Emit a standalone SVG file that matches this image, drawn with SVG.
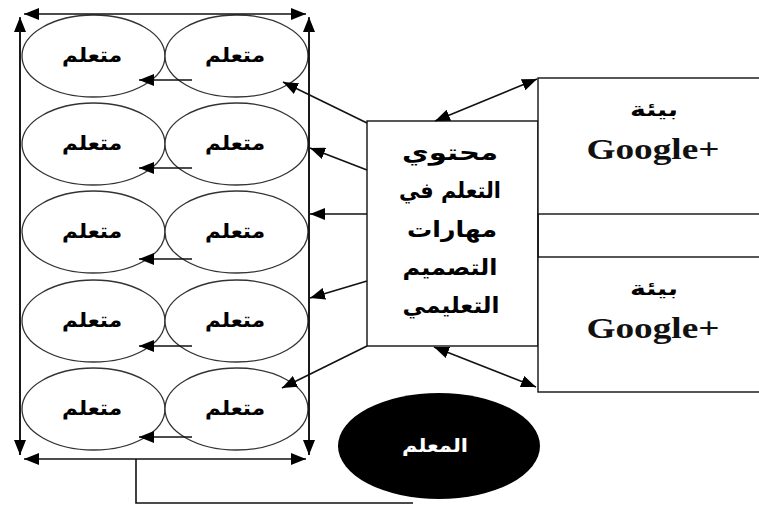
<svg xmlns="http://www.w3.org/2000/svg" width="759" height="506" viewBox="0 0 759 506">
<style>
.ln{stroke:#111;stroke-width:1.6;fill:none}
.el{stroke:#333;stroke-width:1.3;fill:#fff}
.bx{stroke:#111;stroke-width:1.4;fill:#fff}
.ar{font-family:"DejaVu Sans",sans-serif;font-weight:bold;fill:#000;text-anchor:middle}
.lt{font-size:20px}
.ct{font-size:22px}
.gg{font-family:"Liberation Serif",serif;font-weight:bold;font-size:30px;fill:#111;text-anchor:middle}
</style>
<defs>
<marker id="ah" markerUnits="userSpaceOnUse" markerWidth="15" markerHeight="12" refX="15" refY="6" orient="auto-start-reverse" viewBox="0 0 15 12">
<path d="M0,0 L15,6 L0,12 z" fill="#000"/>
</marker>
</defs>
<rect width="759" height="506" fill="#fff"/>
<g id="learners">
<g id="l1a"><ellipse class="el" cx="93.5" cy="56" rx="71.5" ry="41"/><text class="ar lt" x="92" y="62" textLength="60" lengthAdjust="spacingAndGlyphs">متعلم</text></g>
<g id="l1b"><ellipse class="el" cx="236.5" cy="56" rx="71.5" ry="41"/><text class="ar lt" x="235" y="62" textLength="60" lengthAdjust="spacingAndGlyphs">متعلم</text></g>
<g id="l2a"><ellipse class="el" cx="93.5" cy="144" rx="71.5" ry="41"/><text class="ar lt" x="92" y="150" textLength="60" lengthAdjust="spacingAndGlyphs">متعلم</text></g>
<g id="l2b"><ellipse class="el" cx="236.5" cy="144" rx="71.5" ry="41"/><text class="ar lt" x="235" y="150" textLength="60" lengthAdjust="spacingAndGlyphs">متعلم</text></g>
<g id="l3a"><ellipse class="el" cx="93.5" cy="232" rx="71.5" ry="41"/><text class="ar lt" x="92" y="238" textLength="60" lengthAdjust="spacingAndGlyphs">متعلم</text></g>
<g id="l3b"><ellipse class="el" cx="236.5" cy="232" rx="71.5" ry="41"/><text class="ar lt" x="235" y="238" textLength="60" lengthAdjust="spacingAndGlyphs">متعلم</text></g>
<g id="l4a"><ellipse class="el" cx="93.5" cy="321" rx="71.5" ry="41"/><text class="ar lt" x="92" y="327" textLength="60" lengthAdjust="spacingAndGlyphs">متعلم</text></g>
<g id="l4b"><ellipse class="el" cx="236.5" cy="321" rx="71.5" ry="41"/><text class="ar lt" x="235" y="327" textLength="60" lengthAdjust="spacingAndGlyphs">متعلم</text></g>
<g id="l5a"><ellipse class="el" cx="93.5" cy="409" rx="71.5" ry="41"/><text class="ar lt" x="92" y="415" textLength="60" lengthAdjust="spacingAndGlyphs">متعلم</text></g>
<g id="l5b"><ellipse class="el" cx="236.5" cy="409" rx="71.5" ry="41"/><text class="ar lt" x="235" y="415" textLength="60" lengthAdjust="spacingAndGlyphs">متعلم</text></g>
</g>
<g id="content">
<rect class="bx" x="367" y="121" width="171" height="225"/>
<text class="ar ct" x="450" y="160" textLength="96" lengthAdjust="spacingAndGlyphs">محتوي</text>
<text class="ar ct" x="450" y="198" textLength="102" lengthAdjust="spacingAndGlyphs">التعلم في</text>
<text class="ar ct" x="452" y="237" textLength="90" lengthAdjust="spacingAndGlyphs">مهارات</text>
<text class="ar ct" x="450" y="275" textLength="95" lengthAdjust="spacingAndGlyphs">التصميم</text>
<text class="ar ct" x="451" y="313" textLength="97" lengthAdjust="spacingAndGlyphs">التعليمي</text>
</g>
<g id="env1">
<rect class="bx" x="538" y="78" width="240" height="136"/>
<text class="ar" style="font-size:19px" x="654" y="116" textLength="48" lengthAdjust="spacingAndGlyphs">بيئة</text>
<text class="gg" x="653" y="159" textLength="133" lengthAdjust="spacingAndGlyphs">Google+</text>
</g>
<g id="env2">
<rect class="bx" x="538" y="257" width="240" height="135"/>
<text class="ar" style="font-size:19px" x="654" y="295" textLength="48" lengthAdjust="spacingAndGlyphs">بيئة</text>
<text class="gg" x="653" y="338" textLength="133" lengthAdjust="spacingAndGlyphs">Google+</text>
</g>
<g id="teacher">
<ellipse cx="439" cy="446" rx="101" ry="53" fill="#000"/>
<text class="ar" style="font-size:19px;fill:#fff" x="435" y="452" textLength="66" lengthAdjust="spacingAndGlyphs">المعلم</text>
</g>
<g id="connectors">
<line class="ln" x1="538" y1="214" x2="538" y2="257"/>
<line class="ln" x1="24" y1="14" x2="306" y2="14" marker-start="url(#ah)" marker-end="url(#ah)"/>
<line class="ln" x1="24" y1="459" x2="306" y2="459" marker-start="url(#ah)" marker-end="url(#ah)"/>
<line class="ln" x1="20" y1="455" x2="20" y2="17" marker-end="url(#ah)"/>
<line class="ln" x1="20" y1="30" x2="20" y2="455" marker-end="url(#ah)"/>
<line class="ln" x1="309" y1="455" x2="309" y2="17" marker-end="url(#ah)"/>
<line class="ln" x1="309" y1="30" x2="309" y2="455" marker-end="url(#ah)"/>
<line class="ln" x1="192" y1="80" x2="139" y2="80" marker-end="url(#ah)"/>
<line class="ln" x1="192" y1="168" x2="139" y2="168" marker-end="url(#ah)"/>
<line class="ln" x1="192" y1="259" x2="139" y2="259" marker-end="url(#ah)"/>
<line class="ln" x1="192" y1="346" x2="139" y2="346" marker-end="url(#ah)"/>
<line class="ln" x1="192" y1="437" x2="139" y2="437" marker-end="url(#ah)"/>
<line class="ln" x1="367" y1="123" x2="283" y2="82" marker-end="url(#ah)"/>
<line class="ln" x1="367" y1="170" x2="310" y2="148" marker-end="url(#ah)"/>
<line class="ln" x1="367" y1="214" x2="310" y2="214" marker-end="url(#ah)"/>
<line class="ln" x1="367" y1="281" x2="310" y2="298" marker-end="url(#ah)"/>
<line class="ln" x1="367" y1="346" x2="282" y2="388" marker-end="url(#ah)"/>
<line class="ln" x1="435" y1="121" x2="537" y2="79" marker-start="url(#ah)" marker-end="url(#ah)"/>
<line class="ln" x1="434" y1="347" x2="536" y2="387" marker-start="url(#ah)" marker-end="url(#ah)"/>
<polyline class="ln" points="136,459 136,503 413,503"/>
</g>
</svg>
